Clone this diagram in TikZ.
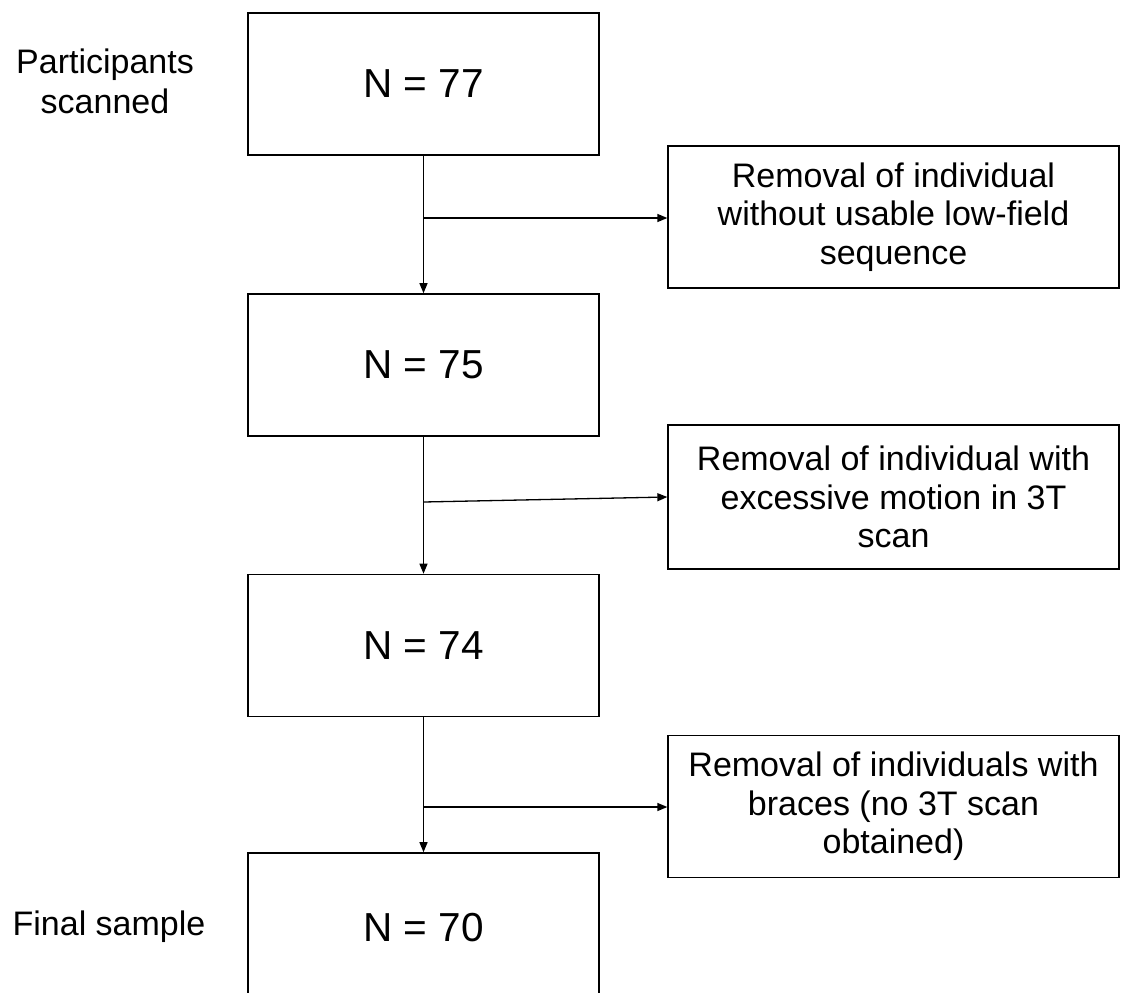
\documentclass[tikz,border=0pt]{standalone}
\usepackage{fontspec}
\setmainfont{Liberation Sans}
\usetikzlibrary{arrows.meta}
\begin{document}
\begin{tikzpicture}[x=1pt,y=-1pt,
  mainbox/.style={draw=black, line width=1.6pt, minimum width=351pt, minimum height=142pt, inner sep=0pt, font=\fontsize{40.5}{48}\selectfont},
  sidebox/.style={draw=black, line width=1.3pt, minimum width=451pt, minimum height=142pt, inner sep=0pt, align=center, font=\fontsize{34}{38.5}\selectfont},
  lbl/.style={align=center, inner sep=0pt, font=\fontsize{34}{40}\selectfont},
  conn/.style={line width=1.3pt, -{Triangle[length=10pt,width=8pt]}}]
\useasboundingbox (0,0) rectangle (1122,993);
\clip (0,0) rectangle (1122,993);
\fill[white] (0,0) rectangle (1122,993);
\node[mainbox] (b1) at (423.5,84) {N = 77};
\node[mainbox] (b2) at (423.5,365) {N = 75};
\node[mainbox] (b3) at (423.5,645.5) {N = 74};
\node[mainbox, minimum height=150pt] (b4) at (423.5,928) {N = 70};
\node[sidebox] (sa) at (893.5,217) {Removal of individual\\without usable low-field\\sequence};
\node[sidebox, minimum height=144pt] (sb) at (893.5,497) {Removal of individual with\\excessive motion in 3T\\scan};
\node[sidebox] (sc) at (893.5,806.5) {Removal of individuals with\\braces (no 3T scan\\obtained)};
\node[lbl] (l1) at (105,81.5) {Participants\\scanned};
\node[lbl, anchor=base] (l2) at (109,935) {Final sample};
\coordinate (ja) at (423.5,218);
\coordinate (jb) at (423.5,502);
\coordinate (jc) at (423.5,807);
\draw[conn] (b1.south) -- (b2.north);
\draw[conn] (b2.south) -- (b3.north);
\draw[conn] (b3.south) -- (b4.north);
\draw[conn] (ja) -- (sa.west |- ja);
\draw[conn] (jb) -- (sb.west);
\draw[conn] (jc) -- (sc.west |- jc);
\end{tikzpicture}
\end{document}
